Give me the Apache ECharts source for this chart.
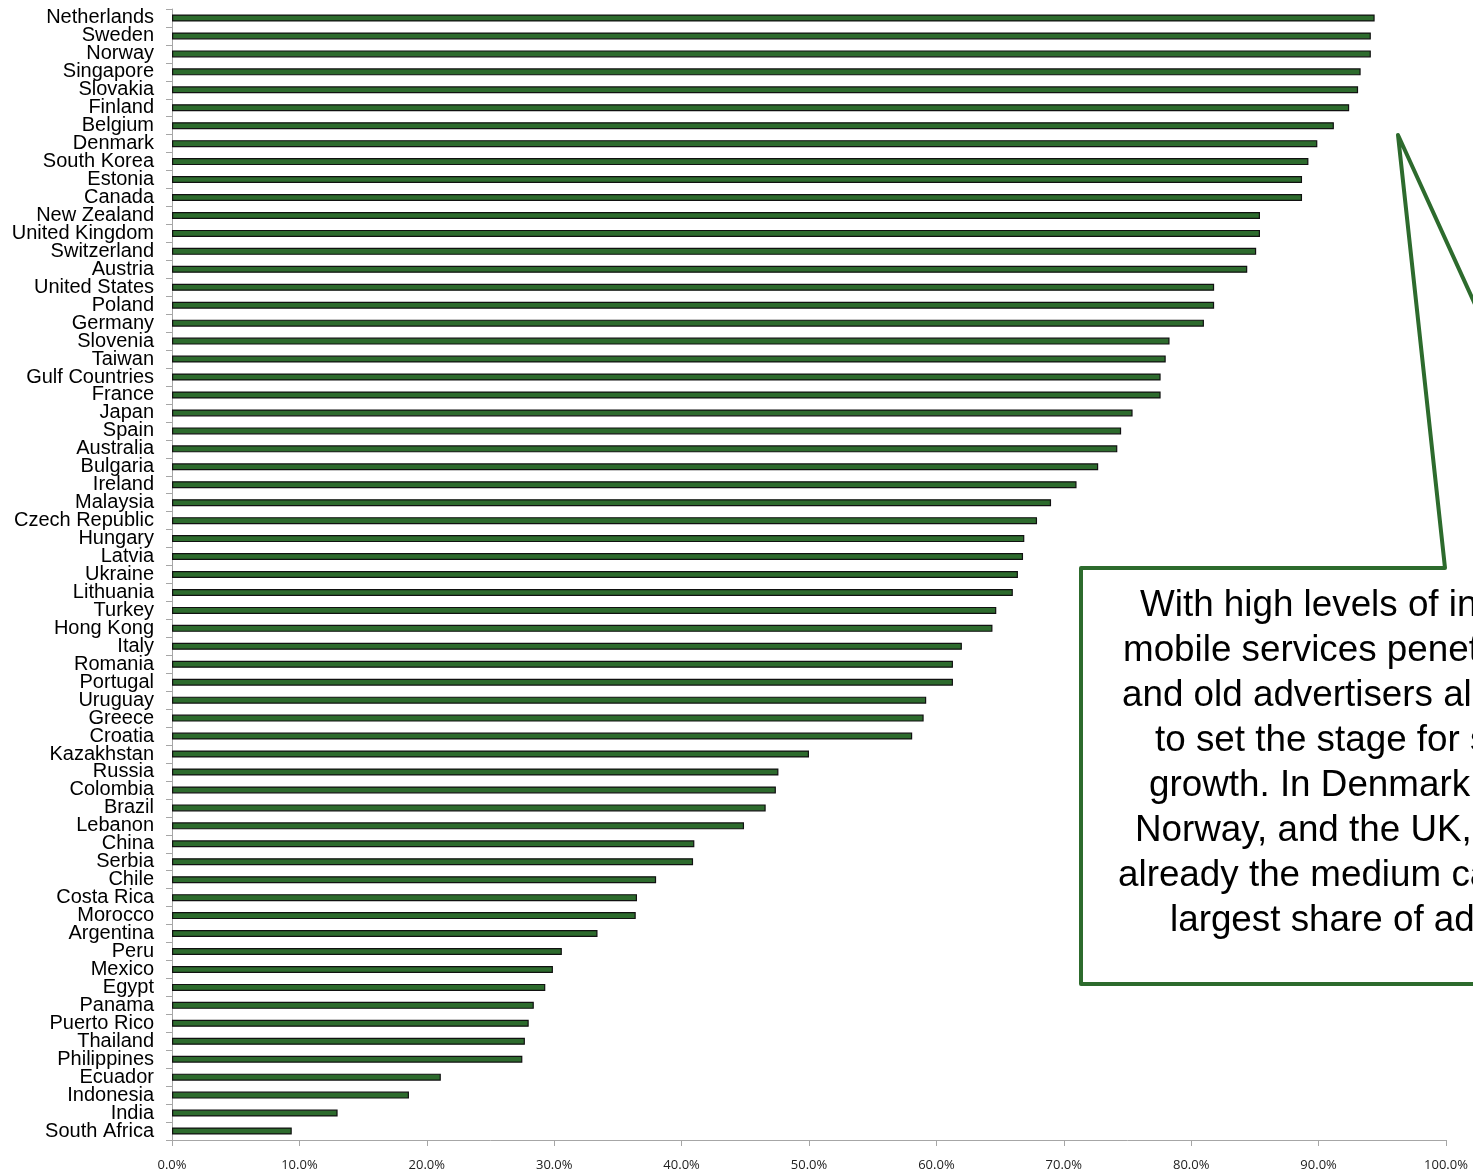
<!DOCTYPE html>
<html>
<head>
<meta charset="utf-8">
<style>
  html, body { margin: 0; padding: 0; background: #ffffff; }
  #chart { width: 1473px; height: 1175px; }
</style>
<script src="https://cdn.jsdelivr.net/npm/echarts@6/dist/echarts.min.js"></script>
</head>
<body>
<div id="chart"></div>
<script>
// Countries, ranked from highest to lowest share
const countries = [
  'Netherlands', 'Sweden', 'Norway', 'Singapore', 'Slovakia', 'Finland', 'Belgium',
  'Denmark', 'South Korea', 'Estonia', 'Canada', 'New Zealand', 'United Kingdom',
  'Switzerland', 'Austria', 'United States', 'Poland', 'Germany', 'Slovenia', 'Taiwan',
  'Gulf Countries', 'France', 'Japan', 'Spain', 'Australia', 'Bulgaria', 'Ireland',
  'Malaysia', 'Czech Republic', 'Hungary', 'Latvia', 'Ukraine', 'Lithuania', 'Turkey',
  'Hong Kong', 'Italy', 'Romania', 'Portugal', 'Uruguay', 'Greece', 'Croatia',
  'Kazakhstan', 'Russia', 'Colombia', 'Brazil', 'Lebanon', 'China', 'Serbia', 'Chile',
  'Costa Rica', 'Morocco', 'Argentina', 'Peru', 'Mexico', 'Egypt', 'Panama',
  'Puerto Rico', 'Thailand', 'Philippines', 'Ecuador', 'Indonesia', 'India', 'South Africa'
];

// Penetration, percent
const penetration = [
  94.4, 94.1, 94.1, 93.3, 93.1, 92.4, 91.2,
  89.9, 89.2, 88.7, 88.7, 85.4, 85.4,
  85.1, 84.4, 81.8, 81.8, 81.0, 78.3, 78.0,
  77.6, 77.6, 75.4, 74.5, 74.2, 72.7, 71.0,
  69.0, 67.9, 66.9, 66.8, 66.4, 66.0, 64.7,
  64.4, 62.0, 61.3, 61.3, 59.2, 59.0, 58.1,
  50.0, 47.6, 47.4, 46.6, 44.9, 41.0, 40.9, 38.0,
  36.5, 36.4, 33.4, 30.6, 29.9, 29.3, 28.4,
  28.0, 27.7, 27.5, 21.1, 18.6, 13.0, 9.4
];

// Value-axis tick labels, one per 10 points
const xTickLabels = ['0.0%', '10.0%', '20.0%', '30.0%', '40.0%', '50.0%',
                     '60.0%', '70.0%', '80.0%', '90.0%', '100.0%'];

// Callout text, one entry per line
const calloutLines = [
  'With high levels of internet and',
  'mobile services penetration, new',
  'and old advertisers alike are poised',
  'to set the stage for strong',
  'growth. In Denmark, Sweden,',
  'Norway, and the UK, online is',
  'already the medium capturing the',
  'largest share of ad spend.'
];
const calloutStartX = [1140, 1123, 1122, 1155, 1149, 1135, 1118, 1170];

const GREEN = '#2d6b2d';

const chart = echarts.init(document.getElementById('chart'));

const calloutText = calloutLines.map((line, i) => ({
  type: 'text',
  left: calloutStartX[i],
  top: 587 + i * 45,
  z: 110,
  style: {
    text: line,
    fill: '#000000',
    font: '36.8px "Liberation Sans", Arial, sans-serif'
  }
}));

chart.setOption({
  animation: false,
  backgroundColor: '#ffffff',
  grid: { left: 172, right: 27, top: 9, bottom: 35, containLabel: false },
  xAxis: {
    type: 'value',
    min: 0,
    max: 100,
    interval: 10,
    axisLine: { show: true, lineStyle: { color: '#a6a6a6', width: 1 } },
    axisTick: { show: true, length: 6, lineStyle: { color: '#a6a6a6' } },
    splitLine: { show: false },
    axisLabel: {
      margin: 19,
      color: '#222222',
      fontFamily: 'Open Sans',
      fontSize: 13,
      formatter: (v) => xTickLabels[Math.round(v / 10)]
    }
  },
  yAxis: {
    type: 'category',
    data: countries,
    inverse: true,
    axisLine: { show: true, lineStyle: { color: '#a6a6a6', width: 1 } },
    axisTick: { show: true, length: 6, lineStyle: { color: '#a6a6a6' } },
    axisLabel: {
      interval: 0,
      margin: 18,
      padding: [3, 0, 0, 0],
      color: '#000000',
      fontFamily: 'Liberation Sans',
      fontSize: 20
    }
  },
  series: [{
    type: 'bar',
    data: penetration,
    barWidth: 7,
    itemStyle: { color: GREEN, borderColor: '#111111', borderWidth: 1.2 },
    silent: true
  }],
  graphic: [
    {
      type: 'polygon',
      z: 100,
      shape: {
        points: [
          [1081, 568], [1445, 568], [1398, 135], [1595, 568],
          [1720, 568], [1720, 984], [1081, 984]
        ]
      },
      style: { fill: '#ffffff', stroke: GREEN, lineWidth: 4, lineJoin: 'round' }
    }
  ].concat(calloutText)
});
</script>
</body>
</html>
